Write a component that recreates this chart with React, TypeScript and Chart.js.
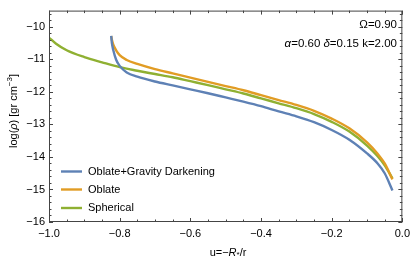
import React, { useEffect, useRef } from "react";
import { Chart, registerables } from "chart.js";

Chart.register(...registerables);

// ---- data ----
const sphericalU = [-1.0, -0.98, -0.95, -0.9, -0.85, -0.8, -0.75, -0.7, -0.65, -0.6, -0.55, -0.5, -0.45, -0.4, -0.35, -0.3, -0.25, -0.2, -0.15, -0.1, -0.07, -0.05, -0.028];
const sphericalRho = [-10.33, -10.52, -10.72, -10.93, -11.09, -11.24, -11.35, -11.45, -11.55, -11.67, -11.79, -11.92, -12.05, -12.2, -12.35, -12.5, -12.68, -12.92, -13.22, -13.65, -13.98, -14.26, -14.66];

const oblateU = [-0.824, -0.822, -0.818, -0.81, -0.8, -0.78, -0.75, -0.7, -0.65, -0.6, -0.55, -0.5, -0.45, -0.4, -0.35, -0.3, -0.25, -0.2, -0.15, -0.1, -0.07, -0.05, -0.028];
const oblateRho = [-10.28, -10.4, -10.55, -10.72, -10.87, -11.02, -11.14, -11.3, -11.43, -11.56, -11.69, -11.82, -11.95, -12.1, -12.25, -12.4, -12.58, -12.82, -13.12, -13.55, -13.9, -14.2, -14.69];
const gravityRho = [-10.28, -10.5, -10.72, -11.01, -11.2, -11.4, -11.53, -11.68, -11.8, -11.92, -12.04, -12.17, -12.3, -12.44, -12.6, -12.75, -12.93, -13.17, -13.47, -13.89, -14.2, -14.5, -15.03];

const seriesNames = ["Oblate+Gravity Darkening", "Oblate", "Spherical"];
const seriesColors = ["#5E81B5", "#E19C24", "#8FB032"];

const xTicks = [-1.0, -0.8, -0.6, -0.4, -0.2, 0.0];
const yTicks = [-16, -15, -14, -13, -12, -11, -10];

const FONT = "'Liberation Sans', Arial, sans-serif";
const fmt = (v: number, d: number) => (v < 0 ? "\u2212" : "") + Math.abs(v).toFixed(d);

const decorPlugin = {
  id: "decor",
  afterDraw(chart: any) {
    const ctx = chart.ctx as CanvasRenderingContext2D;
    const { left, right, top, bottom } = chart.chartArea;
    const xs = chart.scales.x;
    const ys = chart.scales.y;
    ctx.save();
    ctx.strokeStyle = "#444";
    ctx.lineWidth = 1;
    ctx.strokeRect(left + 0.5, top + 0.5, right - left - 1, bottom - top - 1);
    ctx.beginPath();
    // x ticks
    for (let i = 0; i <= 20; i++) {
      const v = -1 + i * 0.05;
      const px = Math.round(xs.getPixelForValue(v)) + 0.5;
      const len = i % 4 === 0 ? 4 : 2.5;
      ctx.moveTo(px, bottom);
      ctx.lineTo(px, bottom - len);
      ctx.moveTo(px, top);
      ctx.lineTo(px, top + len);
    }
    // y ticks
    for (let i = 0; i <= 32; i++) {
      const v = -16 + i * 0.2;
      const py = Math.round(ys.getPixelForValue(v)) + 0.5;
      const len = i % 5 === 0 ? 4 : 2.5;
      ctx.moveTo(left, py);
      ctx.lineTo(left + len, py);
      ctx.moveTo(right, py);
      ctx.lineTo(right - len, py);
    }
    ctx.stroke();

    ctx.fillStyle = "#000";
    ctx.textBaseline = "middle";
    // legend
    const legY = [171.5, 189.5, 208];
    for (let i = 0; i < 3; i++) {
      ctx.strokeStyle = seriesColors[i];
      ctx.lineWidth = 2.4;
      ctx.beginPath();
      ctx.moveTo(61, legY[i]);
      ctx.lineTo(82, legY[i]);
      ctx.stroke();
      ctx.font = `11px ${FONT}`;
      ctx.textAlign = "left";
      ctx.fillText(seriesNames[i], 88, legY[i]);
    }

    // rich text helper
    const drawRich = (parts: { t: string; f: string; dy?: number }[], x: number, y: number, align: string) => {
      let w = 0;
      for (const p of parts) {
        ctx.font = p.f;
        w += ctx.measureText(p.t).width;
      }
      let cx = align === "right" ? x - w : align === "center" ? x - w / 2 : x;
      ctx.textAlign = "left";
      for (const p of parts) {
        ctx.font = p.f;
        ctx.fillText(p.t, cx, y + (p.dy || 0));
        cx += ctx.measureText(p.t).width;
      }
    };
    const n = `11.5px ${FONT}`;
    const it = `italic 11.5px ${FONT}`;
    drawRich([{ t: "\u03A9=0.90", f: n }], 397, 25, "right");
    drawRich(
      [
        { t: "\u03B1", f: it },
        { t: "=0.60 ", f: n },
        { t: "\u03B4", f: it },
        { t: "=0.15 k=2.00", f: n },
      ],
      397,
      44,
      "right"
    );

    // x title
    const t = `11px ${FONT}`;
    const ti = `italic 11px ${FONT}`;
    const sm = `8px ${FONT}`;
    drawRich(
      [
        { t: "u=\u2212", f: t },
        { t: "R", f: ti },
        { t: "*", f: sm, dy: 2 },
        { t: "/r", f: t },
      ],
      228,
      253,
      "center"
    );
    // y title
    ctx.save();
    ctx.translate(14, 111);
    ctx.rotate(-Math.PI / 2);
    drawRich(
      [
        { t: "log(", f: t },
        { t: "\u03C1", f: ti },
        { t: ") [gr cm", f: t },
        { t: "\u22123", f: sm, dy: -4 },
        { t: "]", f: t },
      ],
      0,
      0,
      "center"
    );
    ctx.restore();
    ctx.restore();
  },
};

export default function App() {
  const ref = useRef<HTMLCanvasElement>(null);
  useEffect(() => {
    document.body.style.margin = "0";
    const mk = (xs: number[], ys: number[]) => xs.map((x, i) => ({ x, y: ys[i] }));
    const chart = new Chart(ref.current!, {
      type: "line",
      data: {
        datasets: [
          { label: seriesNames[0], data: mk(oblateU, gravityRho), borderColor: seriesColors[0] },
          { label: seriesNames[1], data: mk(oblateU, oblateRho), borderColor: seriesColors[1] },
          { label: seriesNames[2], data: mk(sphericalU, sphericalRho), borderColor: seriesColors[2] },
        ].map((d) => ({
          ...d,
          borderWidth: 2.4,
          pointRadius: 0,
          fill: false,
          cubicInterpolationMode: "monotone" as const,
        })),
      },
      options: {
        animation: false,
        responsive: false,
        layout: { padding: { top: 0, right: 9, left: 0, bottom: 0 } },
        plugins: { legend: { display: false }, tooltip: { enabled: false } },
        scales: {
          x: {
            type: "linear",
            min: -1,
            max: 0,
            grid: { display: false, drawTicks: false },
            border: { display: false },
            afterBuildTicks: (s: any) => {
              s.ticks = xTicks.map((v) => ({ value: v }));
            },
            afterFit: (s: any) => {
              s.height = 42;
            },
            ticks: {
              padding: 5,
              color: "#000",
              font: { family: FONT, size: 11 },
              maxRotation: 0,
              callback: (v: any) => fmt(Number(v), 1),
            },
          },
          y: {
            type: "linear",
            min: -16,
            max: -9.5,
            grid: { display: false, drawTicks: false },
            border: { display: false },
            afterBuildTicks: (s: any) => {
              s.ticks = yTicks.map((v) => ({ value: v }));
            },
            afterFit: (s: any) => {
              s.width = 49;
            },
            ticks: {
              padding: 4,
              color: "#000",
              font: { family: FONT, size: 11 },
              callback: (v: any) => fmt(Number(v), 0),
            },
          },
        },
      },
      plugins: [decorPlugin],
    });
    return () => chart.destroy();
  }, []);
  return (
    <div style={{ position: "absolute", left: 0, top: 0, width: 415, height: 264 }}>
      <canvas ref={ref} width={415} height={264} style={{ width: 415, height: 264 }} />
    </div>
  );
}
